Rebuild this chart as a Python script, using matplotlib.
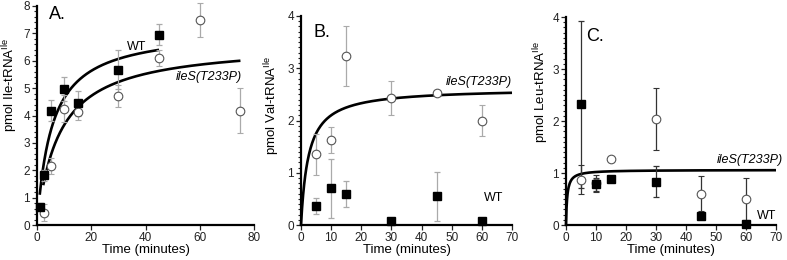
import numpy as np
import matplotlib
matplotlib.use("Agg")
import matplotlib.pyplot as plt
from matplotlib.ticker import MultipleLocator

plt.rcParams['font.family'] = ['Liberation Sans', 'DejaVu Sans']
plt.rcParams['mathtext.default'] = 'regular'

# ---------------- data ----------------
# Panel A: Ile-tRNA(Ile)
a_wt_t = [1, 2.5, 5, 10, 15, 30, 45]
a_wt_y = [0.65, 1.82, 4.17, 4.97, 4.45, 5.68, 6.95]
a_wt_err = [0.15, 0.2, 0.38, 0.45, 0.45, 0.7, 0.38]
a_mu_t = [2.5, 5, 10, 15, 30, 45, 60, 75]
a_mu_y = [0.45, 2.15, 4.25, 4.12, 4.7, 6.1, 7.48, 4.18]
a_mu_err = [0.32, 0.28, 0.5, 0.3, 0.4, 0.3, 0.62, 0.82]
# hyperbolic fits (Vmax, K, t-range)
a_wt_fit = (7.18, 5.5, 1.0, 45.0)
a_mu_fit = (6.66, 8.24, 2.3, 75.0)

# Panel B: Val-tRNA(Ile)
b_wt_t = [5, 10, 15, 30, 45, 60]
b_wt_y = [0.37, 0.70, 0.60, 0.08, 0.55, 0.08]
b_wt_err = [0.15, 0.57, 0.25, 0.02, 0.47, 0.02]
b_mu_t = [5, 10, 15, 30, 45, 60]
b_mu_y = [1.35, 1.62, 3.23, 2.43, 2.52, 2.0]
b_mu_err = [0.4, 0.25, 0.57, 0.32, 0.0, 0.3]
b_mu_fit = (2.62, 2.48, 0.0, 70.0)

# Panel C: Leu-tRNA(Ile)
c_wt_t = [5, 10, 15, 30, 45, 60]
c_wt_y = [2.32, 0.78, 0.88, 0.83, 0.17, 0.01]
c_wt_err = [1.6, 0.12, 0.0, 0.3, 0.0, 0.0]
c_mu_t = [5, 10, 15, 30, 45, 60]
c_mu_y = [0.87, 0.80, 1.27, 2.04, 0.60, 0.50]
c_mu_err = [0.28, 0.17, 0.0, 0.6, 0.34, 0.4]
c_mu_fit = (1.06, 0.4, 0.0, 70.0)

# ---------------- figure ----------------
fig = plt.figure(figsize=(7.87, 2.60), dpi=100)
axA = fig.add_axes([37/787, 35/260, 217/787, 219/260])
axB = fig.add_axes([301/787, 35/260, 211/787, 209/260])
axC = fig.add_axes([566/787, 35/260, 210/787, 208/260])


def fit_curve(ax, params):
    vmax, k, t0, t1 = params
    t = np.linspace(t0, t1, 400)
    ax.plot(t, vmax * t / (k + t), color='black', lw=1.9, zorder=3,
            solid_capstyle='butt', clip_on=False)


def style(ax, xmax, xstep, ymax, yminor, label, lab_pos, xlab_y):
    ax.set_xlim(0, xmax)
    ax.set_ylim(0, ymax)
    ax.xaxis.set_major_locator(MultipleLocator(xstep))
    ax.yaxis.set_major_locator(MultipleLocator(1))
    ax.yaxis.set_minor_locator(MultipleLocator(yminor))
    for s in ('top', 'right'):
        ax.spines[s].set_visible(False)
    for s in ('left', 'bottom'):
        ax.spines[s].set_linewidth(1.6)
    ax.tick_params(which='major', direction='out', length=3.5, width=0.9,
                   labelsize=8.5, pad=1.5, colors='#222222')
    ax.tick_params(axis='x', which='major', pad=1.5)
    ax.tick_params(which='minor', direction='out', length=2.2, width=0.8,
                   colors='#222222')
    ax.tick_params(axis='x', which='minor', length=0)
    ax.set_xlabel('Time (minutes)', fontsize=9.5)
    ax.xaxis.set_label_coords(0.5, xlab_y)
    ax.set_ylabel(label, fontsize=9.5)
    ax.yaxis.set_label_coords(lab_pos[0], lab_pos[1])


def points(ax, t, y, err, marker, ecolor):
    if marker == 's':
        ax.errorbar(t, y, yerr=err, fmt='s', ms=5.6, mfc='black', mec='black',
                    ecolor=ecolor, elinewidth=0.9, capsize=2.5, capthick=0.9,
                    zorder=4, clip_on=False)
    else:
        ax.errorbar(t, y, yerr=err, fmt='o', ms=6.2, mfc='white', mec='#555555',
                    mew=0.8, ecolor=ecolor, elinewidth=0.9, capsize=2.5,
                    capthick=0.9, zorder=4, clip_on=False)


light = '#aaaaaa'
dark = '#333333'

# Panel A
points(axA, a_mu_t, a_mu_y, a_mu_err, 'o', light)
points(axA, a_wt_t, a_wt_y, a_wt_err, 's', light)
fit_curve(axA, a_wt_fit)
fit_curve(axA, a_mu_fit)
style(axA, 80, 20, 8, 0.2, 'pmol Ile-tRNA$^{Ile}$', (-0.078, 0.64), -0.086)
axA.text(36.7, 6.51, 'WT', fontsize=9, ha='center', va='center')
axA.text(63.2, 5.42, 'ileS(T233P)', fontsize=9, style='italic', ha='center', va='center')
axA.text(4.5, 7.68, 'A.', fontsize=13, ha='left', va='center')

# Panel B
points(axB, b_mu_t, b_mu_y, b_mu_err, 'o', light)
points(axB, b_wt_t, b_wt_y, b_wt_err, 's', light)
fit_curve(axB, b_mu_fit)
style(axB, 70, 10, 4, 0.1, 'pmol Val-tRNA$^{Ile}$', (-0.09, 0.57), -0.09)
axB.text(63.8, 0.52, 'WT', fontsize=9, ha='center', va='center')
axB.text(70, 2.73, 'ileS(T233P)', fontsize=9, style='italic', ha='right', va='center')
axB.text(4.3, 3.68, 'B.', fontsize=13, ha='left', va='center')

# Panel C
points(axC, c_mu_t, c_mu_y, c_mu_err, 'o', dark)
points(axC, c_wt_t, c_wt_y, c_wt_err, 's', dark)
fit_curve(axC, c_mu_fit)
style(axC, 70, 10, 4, 0.1, 'pmol Leu-tRNA$^{Ile}$', (-0.071, 0.64), -0.09)
axC.text(66.9, 0.17, 'WT', fontsize=9, ha='center', va='center')
axC.text(72.3, 1.25, 'ileS(T233P)', fontsize=9, style='italic', ha='right', va='center')
axC.text(6.7, 3.62, 'C.', fontsize=13, ha='left', va='center')

fig.savefig('out.png', dpi=100)
